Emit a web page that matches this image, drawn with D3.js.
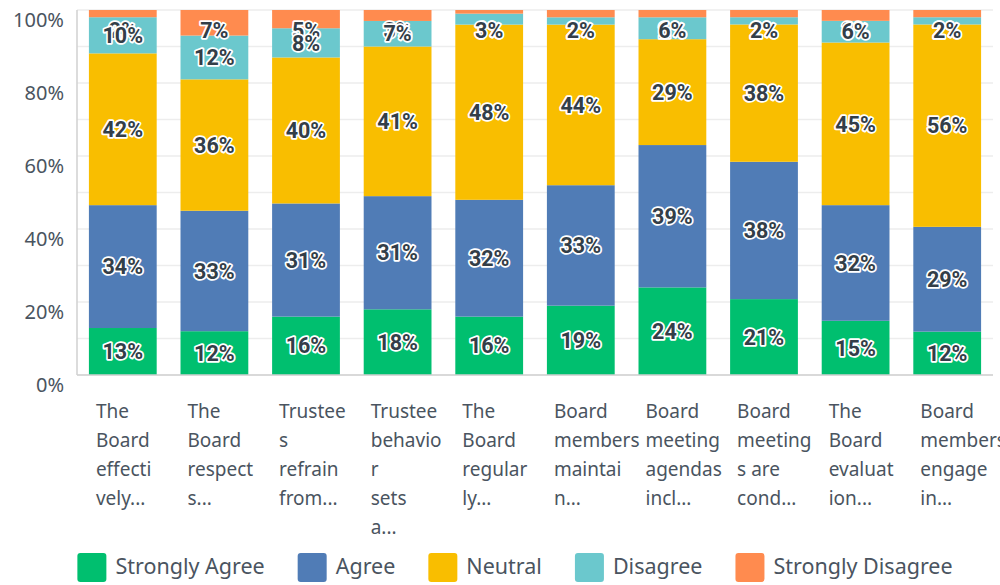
<!DOCTYPE html>
<html>
<head>
<meta charset="utf-8">
<script src="https://cdn.jsdelivr.net/npm/d3@7"></script>
<style>
  body { margin: 0; background: #fff; }
  svg { display: block; }
</style>
</head>
<body>
<svg id="chart" width="1000" height="585"></svg>
<script>
// question labels, already wrapped the way the survey tool cut them
var categories = [
    ["The", "Board", "effecti", "vely..."],
    ["The", "Board", "respect", "s..."],
    ["Trustee", "s", "refrain", "from..."],
    ["Trustee", "behavio", "r", "sets", "a..."],
    ["The", "Board", "regular", "ly..."],
    ["Board", "members", "maintai", "n..."],
    ["Board", "meeting", "agendas", "incl..."],
    ["Board", "meeting", "s are", "cond..."],
    ["The", "Board", "evaluat", "ion..."],
    ["Board", "members", "engage", "in..."]
];

var seriesNames = ["Strongly Agree", "Agree", "Neutral", "Disagree", "Strongly Disagree"];
var seriesColors = ["#00bf6f", "#507cb6", "#f9be00", "#6bc8cd", "#ff8b4f"];

// percent of answers per question
var stronglyAgree    = [13, 12, 16, 18, 16, 19, 24, 21, 15, 12];
var agree            = [34, 33, 31, 31, 32, 33, 39, 38, 32, 29];
var neutral          = [42, 36, 40, 41, 48, 44, 29, 38, 45, 56];
var disagree         = [10, 12, 8, 7, 3, 2, 6, 2, 6, 2];
var stronglyDisagree = [2, 7, 5, 3, 1, 2, 2, 2, 3, 2];

var gridTicks = [0, 0.1, 0.2, 0.3, 0.4, 0.5, 0.6, 0.7, 0.8, 0.9, 1];
var yTickLabels = ["0%", "20%", "40%", "60%", "80%", "100%"];

(function () {
    "use strict";

    var values = [stronglyAgree, agree, neutral, disagree, stronglyDisagree];
    var rows = categories.map(function (c, i) {
        var row = { idx: i };
        seriesNames.forEach(function (s, k) { row[s] = values[k][i]; });
        return row;
    });

    var svg = d3.select("#chart");
    var left = 77, right = 993, top = 10, bottom = 375;
    var textColor = "#333e48";

    var x = d3.scaleBand()
        .domain(d3.range(categories.length))
        .range([left, right])
        .paddingInner(0.26)
        .paddingOuter(0.13);

    var y = d3.scaleLinear().domain([0, 1]).range([bottom, top]);

    //grid lines
    svg.append("g").selectAll("line")
        .data(gridTicks)
        .enter().append("line")
        .attr("x1", left).attr("x2", right)
        .attr("y1", function (d) { return y(d); })
        .attr("y2", function (d) { return y(d); })
        .attr("stroke", "#ededed")
        .attr("stroke-width", 1.5);

    //y tick labels sit a little below their grid line
    svg.append("g").selectAll("text")
        .data(yTickLabels)
        .enter().append("text")
        .attr("x", 64)
        .attr("y", function (d, i) { return y(i * 0.2) + 12; })
        .attr("text-anchor", "end")
        .attr("dominant-baseline", "middle")
        .attr("font-family", "'Noto Sans', sans-serif")
        .attr("font-size", 20)
        .attr("fill", "#4a5460")
        .text(function (d) { return d; });

    var stack = d3.stack().keys(seriesNames).offset(d3.stackOffsetExpand);
    var layers = stack(rows);

    //bars
    svg.append("g").selectAll("g")
        .data(layers)
        .enter().append("g")
        .attr("fill", function (d, k) { return seriesColors[k]; })
        .selectAll("rect")
        .data(function (d) { return d; })
        .enter().append("rect")
        .attr("x", function (d) { return x(d.data.idx); })
        .attr("width", x.bandwidth())
        .attr("y", function (d) { return y(d[1]); })
        .attr("height", function (d) { return y(d[0]) - y(d[1]); });

    //axis lines
    svg.append("line")
        .attr("x1", left).attr("x2", left)
        .attr("y1", top).attr("y2", bottom)
        .attr("stroke", "#d0d0d0").attr("stroke-width", 1.5);
    svg.append("line")
        .attr("x1", left).attr("x2", right)
        .attr("y1", bottom).attr("y2", bottom)
        .attr("stroke", "#d0d0d0").attr("stroke-width", 1.5);

    //value labels, drawn from the top series down so lower labels end up on top
    var labelLayers = layers.slice().reverse();
    svg.append("g").selectAll("g")
        .data(labelLayers)
        .enter().append("g")
        .selectAll("text")
        .data(function (d) {
            return d.map(function (p) { return { p: p, key: d.key }; });
        })
        .enter().append("text")
        .attr("x", function (d) { return x(d.p.data.idx) + x.bandwidth() / 2; })
        .attr("y", function (d) {
            var mid = (y(d.p[0]) + y(d.p[1])) / 2 + 2;
            return Math.max(mid, 32);
        })
        .attr("text-anchor", "middle")
        .attr("dominant-baseline", "middle")
        .attr("font-family", "Roboto, sans-serif")
        .attr("font-weight", "bold")
        .attr("font-size", 21.5)
        .attr("fill", textColor)
        .attr("stroke", "#fff")
        .attr("stroke-width", 3.5)
        .attr("stroke-linejoin", "round")
        .attr("paint-order", "stroke")
        .text(function (d) { return d.p.data[d.key] + "%"; });

    //category labels
    var cat = svg.append("g").selectAll("text")
        .data(categories)
        .enter().append("text")
        .attr("x", function (d, i) { return x(i) + 7; })
        .attr("y", 418)
        .attr("font-family", "'Noto Sans', sans-serif")
        .attr("font-size", 19)
        .attr("fill", "#4a5460");
    cat.selectAll("tspan")
        .data(function (d) { return d; })
        .enter().append("tspan")
        .attr("x", function () { return d3.select(this.parentNode).attr("x"); })
        .attr("dy", function (d, i) { return i === 0 ? 0 : 29; })
        .text(function (d) { return d; });

    //legend, laid out from measured text widths and centred
    var legend = svg.append("g");
    var items = legend.selectAll("g")
        .data(seriesNames)
        .enter().append("g");
    items.append("rect")
        .attr("width", 29).attr("height", 29)
        .attr("y", 553)
        .attr("rx", 3)
        .attr("fill", function (d, k) { return seriesColors[k]; });
    items.append("text")
        .attr("x", 38)
        .attr("y", 568)
        .attr("dominant-baseline", "middle")
        .attr("font-family", "'Noto Sans', sans-serif")
        .attr("font-size", 21.5)
        .attr("fill", "#4a5460")
        .text(function (d) { return d; });

    var widths = [];
    items.each(function () {
        widths.push(38 + this.querySelector("text").getComputedTextLength());
    });
    var total = d3.sum(widths) + 33 * (widths.length - 1);
    var offset = 515 - total / 2;
    items.attr("transform", function (d, k) {
        var t = "translate(" + offset + ",0)";
        offset += widths[k] + 33;
        return t;
    });
})();
</script>
</body>
</html>
